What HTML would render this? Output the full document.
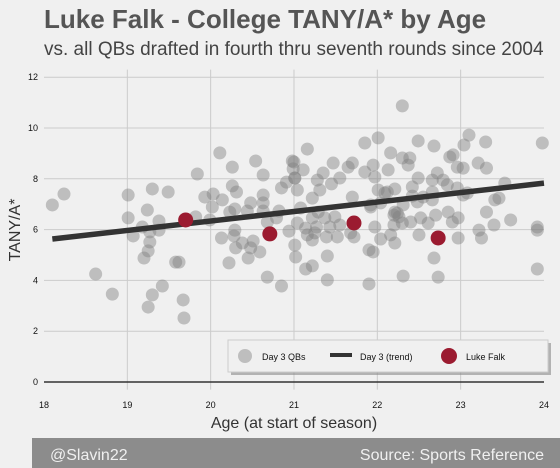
<!DOCTYPE html>
<html><head><meta charset="utf-8"><style>
body{margin:0;background:#f0f0f0;font-family:"Liberation Sans",sans-serif;}
#wrap{position:relative;width:560px;height:468px;overflow:hidden;background:#f0f0f0}
</style></head><body>
<div id="wrap">
<svg id="chart" width="560" height="468" xmlns="http://www.w3.org/2000/svg">
<text x="44" y="28" font-size="26" font-weight="bold" fill="#555">Luke Falk - College TANY/A* by Age</text>
<text x="44" y="55" font-size="19" fill="#444">vs. all QBs drafted in fourth thru seventh rounds since 2004</text>
<g id="grid"></g><g id="pts"></g><g id="axes"></g>
<text x="294" y="428" font-size="16" fill="#333" text-anchor="middle">Age (at start of season)</text>
<text x="20" y="230" font-size="16" fill="#333" text-anchor="middle" transform="rotate(-90 20 230)">TANY/A*</text>
<g>
<rect x="231" y="343" width="320" height="32" fill="#888" opacity="0.6"/>
<rect x="228" y="340" width="320" height="32" fill="#f0f0f0" stroke="#ccc"/>
<circle cx="245" cy="356" r="7" fill="rgba(128,128,128,0.45)"/>
<text x="262" y="360" font-size="9" fill="#111">Day 3 QBs</text>
<line x1="330" y1="355" x2="352" y2="355" stroke="#333" stroke-width="4"/>
<text x="360" y="360" font-size="9" fill="#111">Day 3 (trend)</text>
<circle cx="449" cy="356" r="8" fill="#9b1b30"/>
<text x="466" y="360" font-size="9" fill="#111">Luke Falk</text>
</g>
<rect x="32" y="438" width="528" height="30" fill="#8c8c8c"/>
<text x="50" y="460" font-size="16" fill="#f0f0f0">@Slavin22</text>
<text x="544" y="460" font-size="16" fill="#f0f0f0" text-anchor="end">Source: Sports Reference</text>
</svg></div>
<script>
const xTicks=[18,19,20,21,22,23,24];
const yTicks=[0,2,4,6,8,10,12];
const qbAges=[18.10,18.24,18.62,18.82,19.01,19.01,19.07,19.18,19.24,19.30,19.27,19.27,19.25,19.20,19.38,19.38,19.49,19.42,19.30,19.25,19.58,19.62,19.67,19.68,19.84,19.82,19.93,20.03,20.02,19.99,20.11,20.14,20.13,20.26,20.26,20.31,20.23,20.29,20.29,20.28,20.30,20.22,20.38,20.48,20.51,20.59,20.45,20.48,20.44,20.54,20.63,20.63,20.63,20.63,20.68,20.79,20.82,20.68,20.85,20.85,20.91,20.94,20.98,20.99,21.01,
22.30,21.16,21.00,21.11,21.01,21.04,21.28,21.35,21.47,21.65,21.70,21.85,22.01,21.95,21.97,22.13,22.16,22.30,22.37,22.39,22.49,22.68,22.87,22.91,22.96,23.03,23.04,23.10,23.30,23.21,23.31,23.53,23.98,22.72,22.79,22.66,22.49,22.42,22.21,22.12,22.01,21.85,21.55,21.45,21.22,21.31,21.70,21.92,22.09,22.31,22.48,22.66,22.84,22.96,23.03,23.08,23.41,23.46,23.31,23.60,23.40,23.22,23.25,23.92,23.92,23.92,22.97,22.90,22.85,22.70,22.61,22.52,22.40,22.50,22.30,22.20,22.24,22.16,22.21,22.04,21.97,22.97,22.68,22.73,22.31,21.90,21.90,21.95,21.72,21.68,21.52,21.39,21.40,21.40,21.49,21.37,21.43,21.55,21.27,21.22,21.25,21.22,21.16,21.14,21.04,21.01,21.02,21.14,21.22,21.08,21.29,21.92,22.04,22.20,22.26,22.21,22.42,22.55,22.66];
const qbValues=[6.97,7.40,4.25,3.46,7.36,6.46,5.75,6.10,6.77,7.60,5.91,5.51,5.16,4.88,6.34,5.98,7.48,3.78,3.43,2.95,4.72,4.72,3.23,2.52,8.19,6.50,7.28,7.40,6.89,6.38,9.02,7.17,5.67,8.46,7.72,7.48,6.69,6.81,5.98,5.75,5.28,4.69,5.47,5.28,5.55,5.12,4.88,7.05,6.73,8.70,8.15,7.36,7.05,6.73,6.30,6.46,6.73,4.13,3.78,7.64,7.87,5.94,8.70,8.39,8.03,
10.87,9.17,8.66,8.35,8.03,7.56,7.95,8.23,8.62,8.46,8.62,9.41,9.61,8.54,8.07,8.35,9.02,8.82,8.54,8.82,9.49,9.29,8.86,8.94,8.46,8.42,9.33,9.72,9.45,8.62,8.42,7.83,9.41,8.23,7.95,7.95,8.03,7.68,7.60,7.48,7.56,8.27,8.03,7.80,7.24,7.56,7.28,6.89,7.44,6.97,7.09,7.48,7.76,7.64,7.36,7.44,7.17,7.24,6.69,6.38,6.18,5.98,5.67,6.10,5.98,4.45,6.46,6.30,6.69,6.57,6.26,6.46,6.30,5.79,6.26,6.18,6.65,5.79,5.47,5.63,6.10,5.67,4.88,4.13,4.17,3.86,5.20,5.12,5.71,5.87,5.71,5.71,4.96,4.02,6.50,6.46,6.10,6.18,6.10,6.46,5.87,5.59,5.79,6.06,6.26,5.39,4.92,4.45,4.57,6.85,6.69,6.97,7.05,6.57,6.50,6.69,7.32,7.28,7.17];
const falkAges=[19.70,20.71,21.72,22.73];
const falkValues=[6.38,5.83,6.26,5.67];
const trendAges=[18.1,24.0];
const trendValues=[5.63,7.83];
const xS=a=>44+(a-18)*83.33;
const yS=v=>382-v*25.4;
const NS='http://www.w3.org/2000/svg';
function mk(tag,attrs,parent){const e=document.createElementNS(NS,tag);for(const k in attrs)e.setAttribute(k,attrs[k]);parent.appendChild(e);return e;}
const grid=document.getElementById('grid'),pts=document.getElementById('pts'),axes=document.getElementById('axes');
xTicks.forEach(t=>{
  if(t>18&&t<24){const l=mk('line',{x1:xS(t),x2:xS(t),y1:yS(12.3),y2:yS(-0.3),stroke:'#cbcbcb','stroke-width':1},grid);
  
  }
  const tx=mk('text',{x:xS(t),y:408,'font-size':9,fill:'#111','text-anchor':'middle'},axes);tx.textContent=t;
  
  
});
yTicks.forEach(t=>{
  if(t>0){const l=mk('line',{x1:44,x2:544,y1:yS(t),y2:yS(t),stroke:'#cbcbcb','stroke-width':1},grid);
  
  }
  const tx=mk('text',{x:38,y:yS(t)+3,'font-size':9,fill:'#111','text-anchor':'end'},axes);tx.textContent=t;
  
  
});
const zl=mk('line',{x1:44,x2:544,y1:yS(0),y2:yS(0),stroke:'#333','stroke-width':1.5},axes);


qbAges.forEach((a,i)=>{
  const c=mk('circle',{cx:xS(a),cy:yS(qbValues[i]),r:6.5,fill:'rgba(128,128,128,0.45)'},pts);
  
  
});
const tl=mk('line',{x1:xS(trendAges[0]),y1:yS(trendValues[0]),x2:xS(trendAges[1]),y2:yS(trendValues[1]),stroke:'#333','stroke-width':5.5},pts);


falkAges.forEach((a,i)=>{
  const c=mk('circle',{cx:xS(a),cy:yS(falkValues[i]),r:7.5,fill:'#9b1b30'},pts);
  
  
});
</script>
</body></html>
